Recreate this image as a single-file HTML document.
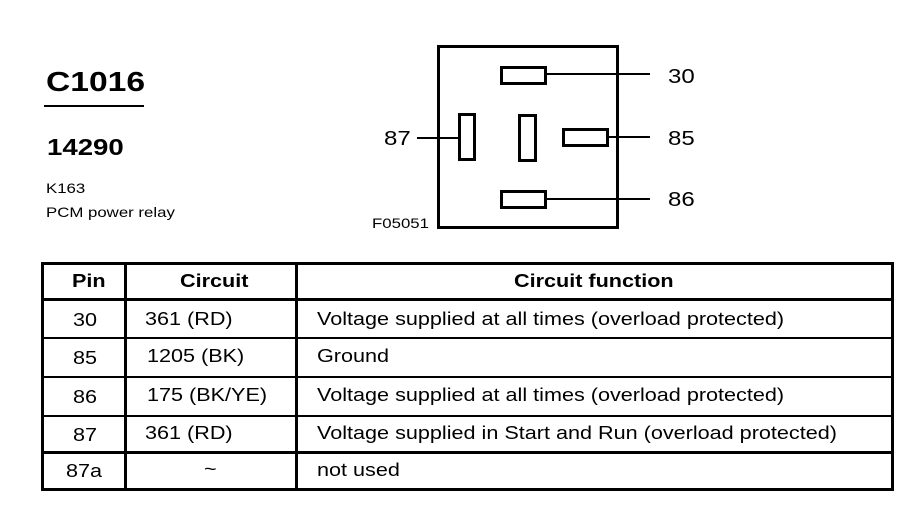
<!DOCTYPE html>
<html><head><style>
body{margin:0;width:922px;height:512px;background:#fff;position:relative;overflow:hidden;font-family:"Liberation Sans",Arial,sans-serif;color:#000}
.t{position:absolute;white-space:nowrap;transform:scaleX(1.2);transform-origin:0 0}
.r{position:absolute;border:3px solid #000;box-sizing:border-box;background:#fff}
.l{position:absolute;background:#000}
</style></head><body>
<div class="t" style="left:46px;top:66px;font-size:28px;font-weight:bold">C1016</div>
<div class="l" style="left:44px;top:105px;width:100px;height:2px"></div>
<div class="t" style="left:47px;top:134px;font-size:23px;font-weight:bold">14290</div>
<div class="t" style="left:46px;top:180px;font-size:14px">K163</div>
<div class="t" style="left:46px;top:204px;font-size:14px">PCM power relay</div>
<div class="t" style="left:372px;top:215px;font-size:14px">F05051</div>

<div class="r" style="left:437px;top:45px;width:182px;height:184px"></div>
<div class="l" style="left:546px;top:73px;width:104px;height:1.5px"></div>
<div class="r" style="left:500px;top:66px;width:47px;height:19px"></div>
<div class="l" style="left:417px;top:137px;width:43px;height:1.5px"></div>
<div class="r" style="left:458px;top:113px;width:18px;height:48px"></div>
<div class="r" style="left:518px;top:114px;width:19px;height:48px"></div>
<div class="l" style="left:607px;top:136px;width:43px;height:1.5px"></div>
<div class="r" style="left:562px;top:128px;width:47px;height:19px"></div>
<div class="l" style="left:546px;top:198px;width:104px;height:1.5px"></div>
<div class="r" style="left:500px;top:190px;width:47px;height:19px"></div>
<div class="t" style="left:668px;top:66px;font-size:20px">30</div>
<div class="t" style="left:384px;top:128px;font-size:20px">87</div>
<div class="t" style="left:668px;top:128px;font-size:20px">85</div>
<div class="t" style="left:668px;top:189px;font-size:20px">86</div>

<div class="r" style="left:41px;top:262px;width:853px;height:229px"></div>
<div class="l" style="left:124px;top:262px;width:3px;height:229px"></div>
<div class="l" style="left:295px;top:262px;width:3px;height:229px"></div>
<div class="l" style="left:41px;top:298px;width:853px;height:3px"></div>
<div class="l" style="left:41px;top:337px;width:853px;height:2px"></div>
<div class="l" style="left:41px;top:376px;width:853px;height:2px"></div>
<div class="l" style="left:41px;top:415px;width:853px;height:2px"></div>
<div class="l" style="left:41px;top:451px;width:853px;height:3px"></div>

<div class="t" style="left:72px;top:271px;font-size:18px;font-weight:bold">Pin</div>
<div class="t" style="left:180px;top:271px;font-size:18px;font-weight:bold">Circuit</div>
<div class="t" style="left:514px;top:271px;font-size:18px;font-weight:bold">Circuit function</div>

<div class="t" style="left:73px;top:310px;font-size:18px">30</div>
<div class="t" style="left:145px;top:309px;font-size:18px">361 (RD)</div>
<div class="t" style="left:317px;top:309px;font-size:18px">Voltage supplied at all times (overload protected)</div>
<div class="t" style="left:73px;top:348px;font-size:18px">85</div>
<div class="t" style="left:147px;top:346px;font-size:18px">1205 (BK)</div>
<div class="t" style="left:317px;top:346px;font-size:18px">Ground</div>
<div class="t" style="left:73px;top:387px;font-size:18px">86</div>
<div class="t" style="left:147px;top:385px;font-size:18px">175 (BK/YE)</div>
<div class="t" style="left:317px;top:385px;font-size:18px">Voltage supplied at all times (overload protected)</div>
<div class="t" style="left:73px;top:425px;font-size:18px">87</div>
<div class="t" style="left:145px;top:423px;font-size:18px">361 (RD)</div>
<div class="t" style="left:317px;top:423px;font-size:18px">Voltage supplied in Start and Run (overload protected)</div>
<div class="t" style="left:66px;top:461px;font-size:18px">87a</div>
<div class="t" style="left:204px;top:459px;font-size:18px">~</div>
<div class="t" style="left:317px;top:460px;font-size:18px">not used</div>
</body></html>
